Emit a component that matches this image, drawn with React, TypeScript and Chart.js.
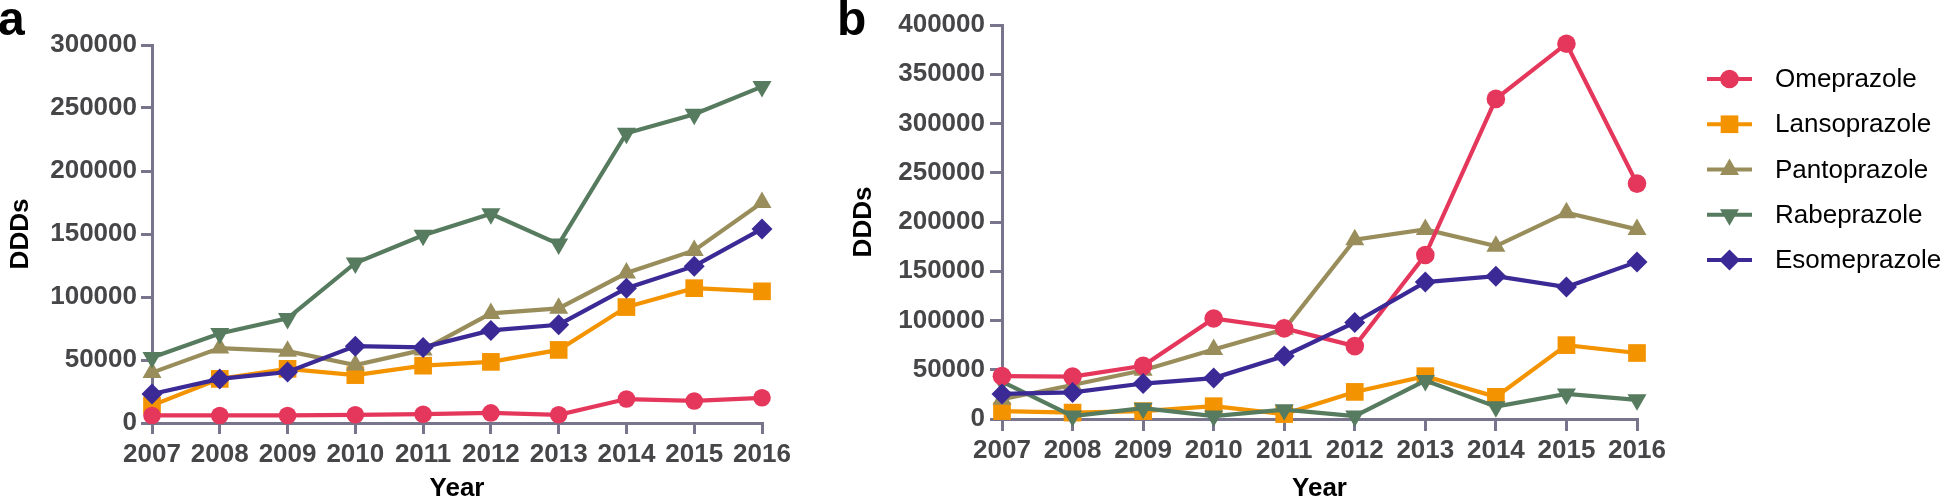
import React, { useEffect, useRef } from 'react';
import { Chart, registerables } from 'chart.js';
import { drawPoint } from 'chart.js/helpers';

Chart.register(...registerables);

// ---------- data ----------
const years = ['2007', '2008', '2009', '2010', '2011', '2012', '2013', '2014', '2015', '2016'];
const drugs = ['Omeprazole', 'Lansoprazole', 'Pantoprazole', 'Rabeprazole', 'Esomeprazole'];

// panel a
const aOmeprazole = [6000, 6000, 6000, 6500, 7000, 8000, 6500, 19000, 17500, 20000];
const aLansoprazole = [14000, 35000, 43000, 38000, 45500, 48500, 58000, 92000, 107000, 104500];
const aPantoprazole = [40000, 59500, 57000, 46000, 58000, 87000, 91000, 119000, 137000, 175000];
const aRabeprazole = [52000, 71000, 83000, 127000, 149000, 166000, 142000, 230000, 245000, 267000];
const aEsomeprazole = [23000, 35000, 40500, 61000, 60000, 73500, 78000, 107000, 124500, 154000];

// panel b
const bOmeprazole = [43500, 43000, 54000, 102000, 92000, 74000, 166500, 325000, 381000, 239000];
const bLansoprazole = [8000, 6500, 8000, 13000, 5000, 27500, 43500, 22500, 75000, 67000];
const bPantoprazole = [20000, 34500, 49500, 70500, 91000, 182000, 192500, 175500, 209500, 192500];
const bRabeprazole = [38000, 3000, 11000, 3000, 9500, 3000, 39000, 12500, 25500, 19500];
const bEsomeprazole = [25500, 27000, 36000, 41500, 64000, 98000, 139000, 145000, 134000, 159500];

const yTicksA = [0, 50000, 100000, 150000, 200000, 250000, 300000];
const yTicksB = [0, 50000, 100000, 150000, 200000, 250000, 300000, 350000, 400000];

const xTitle = 'Year';
const yTitle = 'DDDs';

// ---------- styles ----------
const COLORS = ['#E5375B', '#F49300', '#998E5B', '#567B5E', '#3B2996'];
const STYLES = ['circle', 'rect', 'triangle', 'triangle', 'rectRot'];
const ROTATIONS = [0, 0, 0, 180, 0];
const ORDERS = [1, 4, 3, 2, 0];
const AXIS = '#77748C';
const TICK_TEXT = '#464648';
const FAMILY = '"Liberation Sans", Arial, Helvetica, sans-serif';
const LINE_W = 4.2;

const panelLetterPlugin = {
  id: 'panelLetter',
  afterDraw(chart: any, _args: any, opts: any) {
    const ctx = chart.ctx;
    ctx.save();
    ctx.fillStyle = '#000';
    ctx.font = `bold 48px ${FAMILY}`;
    ctx.textBaseline = 'alphabetic';
    ctx.textAlign = 'left';
    ctx.fillText(opts.text, opts.x, opts.y);
    ctx.restore();
  },
};

const lineLegendPlugin = {
  id: 'lineLegend',
  afterDraw(chart: any, _args: any, opts: any) {
    if (!opts || !opts.show) return;
    const ctx = chart.ctx;
    chart.data.datasets.forEach((ds: any, i: number) => {
      const y = opts.top + i * opts.gap;
      ctx.save();
      ctx.strokeStyle = ds.borderColor;
      ctx.lineWidth = ds.borderWidth;
      ctx.beginPath();
      ctx.moveTo(opts.x1, y);
      ctx.lineTo(opts.x2, y);
      ctx.stroke();
      ctx.fillStyle = ds.pointBackgroundColor;
      drawPoint(
        ctx,
        { pointStyle: ds.pointStyle, rotation: ds.pointRotation, radius: ds.pointRadius, borderWidth: 0 } as any,
        (opts.x1 + opts.x2) / 2,
        y
      );
      ctx.fillStyle = '#000';
      ctx.font = `26px ${FAMILY}`;
      ctx.textBaseline = 'middle';
      ctx.textAlign = 'left';
      ctx.fillText(ds.label, opts.textX, y + 1);
      ctx.restore();
    });
  },
};

type Geo = {
  series: number[][];
  radii: number[];
  yTicks: number[];
  yWidth: number;
  xHeight: number;
  padding: { left: number; right: number; top: number; bottom: number };
  yTickLen: number;
  yTickPad: number;
  xTickLen: number;
  xTickPad: number;
  yTitlePad: number;
  letter: { text: string; x: number; y: number };
  legend: any;
};

function makeConfig(g: Geo): any {
  const tickFont = { family: FAMILY, size: 26, weight: 'bold' as const };
  return {
    type: 'line',
    data: {
      labels: years,
      datasets: g.series.map((vals, i) => ({
        label: drugs[i],
        data: vals,
        borderColor: COLORS[i],
        backgroundColor: COLORS[i],
        pointBackgroundColor: COLORS[i],
        pointBorderWidth: 0,
        pointRadius: g.radii[i],
        pointHoverRadius: g.radii[i],
        pointStyle: STYLES[i],
        pointRotation: ROTATIONS[i],
        borderWidth: LINE_W,
        tension: 0,
        fill: false,
        clip: false,
        order: ORDERS[i],
      })),
    },
    options: {
      responsive: false,
      animation: false,
      devicePixelRatio: 1,
      layout: { padding: g.padding },
      plugins: {
        legend: { display: false },
        tooltip: { enabled: false },
        title: { display: false },
        panelLetter: g.letter,
        lineLegend: g.legend,
      },
      scales: {
        x: {
          type: 'category',
          offset: false,
          afterFit: (s: any) => {
            s.height = g.xHeight;
          },
          ticks: {
            autoSkip: false,
            maxRotation: 0,
            minRotation: 0,
            color: TICK_TEXT,
            font: tickFont,
            padding: g.xTickPad,
          },
          grid: {
            drawOnChartArea: false,
            drawTicks: true,
            tickLength: g.xTickLen,
            color: AXIS,
            lineWidth: 3,
          },
          border: { display: true, color: AXIS, width: 3 },
          title: {
            display: true,
            text: xTitle,
            color: '#000',
            font: tickFont,
            padding: { top: 0, bottom: -6 },
          },
        },
        y: {
          type: 'linear',
          min: g.yTicks[0],
          max: g.yTicks[g.yTicks.length - 1],
          afterBuildTicks: (s: any) => {
            s.ticks = g.yTicks.map((v) => ({ value: v }));
          },
          afterFit: (s: any) => {
            s.width = g.yWidth;
          },
          ticks: {
            color: TICK_TEXT,
            font: tickFont,
            padding: g.yTickPad,
            callback: (v: any) => String(v),
          },
          grid: {
            drawOnChartArea: false,
            drawTicks: true,
            tickLength: g.yTickLen,
            color: AXIS,
            lineWidth: 3,
          },
          border: { display: true, color: AXIS, width: 3 },
          title: {
            display: true,
            text: yTitle,
            color: '#000',
            font: tickFont,
            padding: { top: g.yTitlePad, bottom: 0 },
          },
        },
      },
    },
    plugins: [panelLetterPlugin, lineLegendPlugin],
  };
}

const W_A = 820;
const W_B = 1124;
const H = 498;

export default function App() {
  const refA = useRef<HTMLCanvasElement>(null);
  const refB = useRef<HTMLCanvasElement>(null);

  useEffect(() => {
    const cfgA = makeConfig({
      series: [aOmeprazole, aLansoprazole, aPantoprazole, aRabeprazole, aEsomeprazole],
      radii: [8.8, 12.5, 11, 11, 10.5],
      yTicks: yTicksA,
      yWidth: 152,
      xHeight: 75,
      padding: { left: 0, right: W_A - 762, top: 45, bottom: 0 },
      yTickLen: 11,
      yTickPad: 4,
      xTickLen: 11,
      xTickPad: 5,
      yTitlePad: 5.4,
      letter: { text: 'a', x: -2, y: 35 },
      legend: { show: false },
    });
    const cfgB = makeConfig({
      series: [bOmeprazole, bLansoprazole, bPantoprazole, bRabeprazole, bEsomeprazole],
      radii: [9.3, 12.5, 11, 11, 10.5],
      yTicks: yTicksB,
      yWidth: 182,
      xHeight: 79,
      padding: { left: 0, right: W_B - 817, top: 25, bottom: 0 },
      yTickLen: 12,
      yTickPad: 5,
      xTickLen: 12,
      xTickPad: 4,
      yTitlePad: 28.4,
      letter: { text: 'b', x: 17, y: 35 },
      legend: { show: true, top: 79, gap: 45.25, x1: 887, x2: 932, textX: 955 },
    });
    const chA = new Chart(refA.current as HTMLCanvasElement, cfgA);
    const chB = new Chart(refB.current as HTMLCanvasElement, cfgB);
    return () => {
      chA.destroy();
      chB.destroy();
    };
  }, []);

  return (
    <div
      style={{
        position: 'fixed',
        left: 0,
        top: 0,
        width: 1944,
        height: H,
        background: '#fff',
        overflow: 'hidden',
      }}
    >
      <canvas ref={refA} width={W_A} height={H} style={{ position: 'absolute', left: 0, top: 0 }} />
      <canvas ref={refB} width={W_B} height={H} style={{ position: 'absolute', left: W_A, top: 0 }} />
    </div>
  );
}
